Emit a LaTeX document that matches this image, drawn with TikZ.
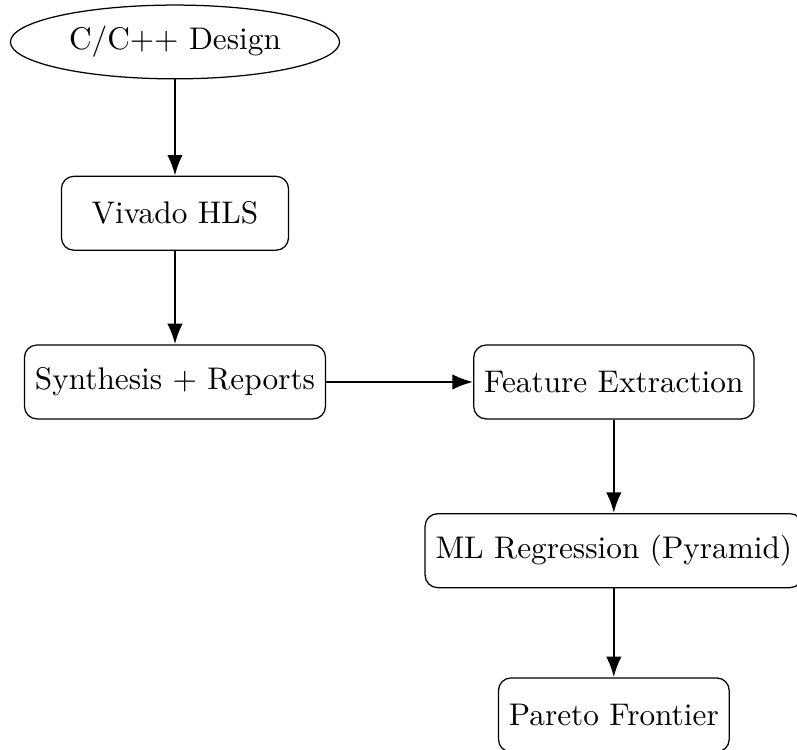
\documentclass[tikz,border=0pt]{standalone}
\usepackage{amsmath}
\usetikzlibrary{positioning,shapes.geometric,arrows.meta}

\begin{document}
\begin{tikzpicture}[node distance=1.05cm,
 block/.style={draw, rounded corners, minimum width=2.55cm, minimum height=8.3mm},
 startnode/.style={draw, ellipse},
 flow/.style={thick, -Latex}] % flusso di progetto

\useasboundingbox (-55.9pt,-225.9pt) rectangle (198.7pt,13.4pt);

\node[startnode] (design) at (0,0) {C/C++ Design};
\node[block, below=1.08cm of design] (hls) {Vivado HLS};
\node[block, below=of hls] (synth) {Synthesis + Reports};
\node[block, right=1.65cm of synth] (feat) {Feature Extraction};
\node[block, below=of feat] (ml) {ML Regression (Pyramid)};
\node[block, below=1cm of ml] (pareto) {Pareto Frontier};

\draw[flow] (design) -- (hls);
\draw[flow] (hls) -- (synth);
\draw[flow] (synth) -- (feat);
\draw[flow] (feat) -- (ml);
\draw[flow] (ml) -- (pareto);
\end{tikzpicture}
\end{document}
